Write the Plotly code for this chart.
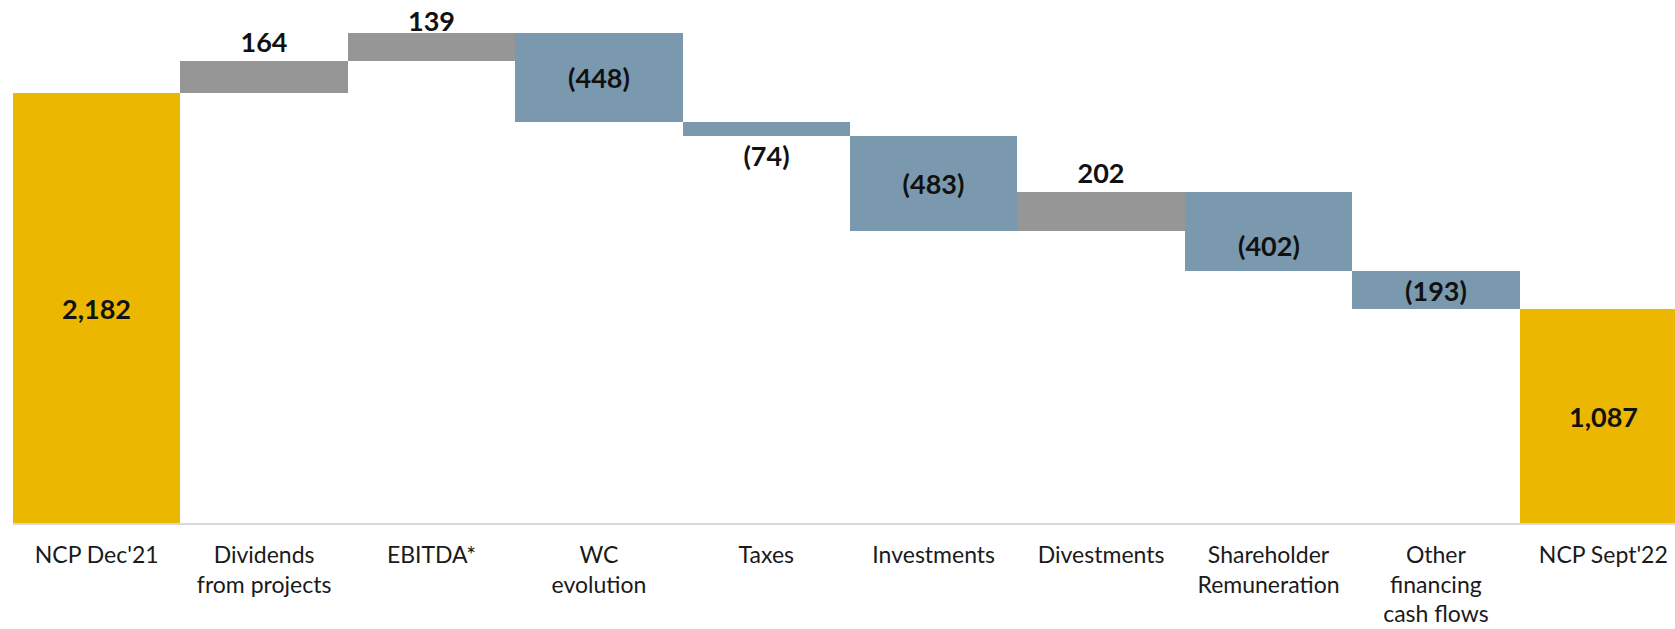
import plotly.graph_objects as go

categories = ["NCP Dec'21", "Dividends<br>from projects", "EBITDA*", "WC<br>evolution", "Taxes",
              "Investments", "Divestments", "Shareholder<br>Remuneration", "Other<br>financing<br>cash flows",
              "NCP Sept'22"]
values = [2182, 164, 139, -448, -74, -483, 202, -402, -193, 1087]
measures = ["absolute", "relative", "relative", "relative", "relative", "relative", "relative",
            "relative", "relative", "total"]
label_pos = ["inside", "outside", "outside", "inside", "outside", "inside", "outside", "inside", "inside", "inside"]
# labels drawn as annotations (offset in pixels from bar middle / bar top)
special_labels = {"Shareholder<br>Remuneration": ("mid", -14), "EBITDA*": ("top", 13)}

def fmt(v):
    s = f"{abs(v):,}"
    return f"({s})" if v < 0 else s

texts = [fmt(v) for v in values]
trace_texts = ["" if c in special_labels else t for c, t in zip(categories, texts)]

GOLD = "#EBB700"
GRAY = "#969696"
BLUE = "#7A99AE"
LABEL_FONT = dict(family="Lato", size=27, color="#111111", weight="bold")

fig = go.Figure(go.Waterfall(
    x=categories, y=values, measure=measures,
    text=trace_texts, textposition=label_pos,
    insidetextanchor="middle",
    constraintext="none",
    textfont=LABEL_FONT,
    increasing=dict(marker=dict(color=GRAY)),
    decreasing=dict(marker=dict(color=BLUE)),
    totals=dict(marker=dict(color=GOLD)),
    connector=dict(visible=False),
    cliponaxis=False,
    hoverinfo="skip",
))

running = 0
for c, v, m, t in zip(categories, values, measures, texts):
    if m == "absolute":
        start, end = 0, v
        running = v
    elif m == "total":
        start, end = 0, running
    else:
        start, end = running, running + v
        running += v
    if c in special_labels:
        where, shift = special_labels[c]
        y = (start + end) / 2 if where == "mid" else max(start, end)
        fig.add_annotation(x=c, y=y, text=t, showarrow=False, yanchor="middle",
                           yshift=shift, font=LABEL_FONT)

fig.update_layout(
    width=1690, height=629,
    margin=dict(l=13, r=3, t=0, b=106, autoexpand=False),
    paper_bgcolor="white", plot_bgcolor="white",
    waterfallgap=0,
    showlegend=False,
    font=dict(family="Lato", color="#1a1a1a"),
)
fig.update_xaxes(showline=True, linecolor="#d9d9d9", linewidth=2, ticks="", automargin=False,
                 tickfont=dict(size=23, color="#1a1a1a"), ticklabelstandoff=10, showgrid=False)
fig.update_yaxes(visible=False, range=[0, 2655], showgrid=False, zeroline=False)

fig.write_html("out.html", config={"displayModeBar": False},
               post_script="document.body.style.margin='0';document.body.style.overflow='hidden';"
                           "document.documentElement.style.overflow='hidden';")
